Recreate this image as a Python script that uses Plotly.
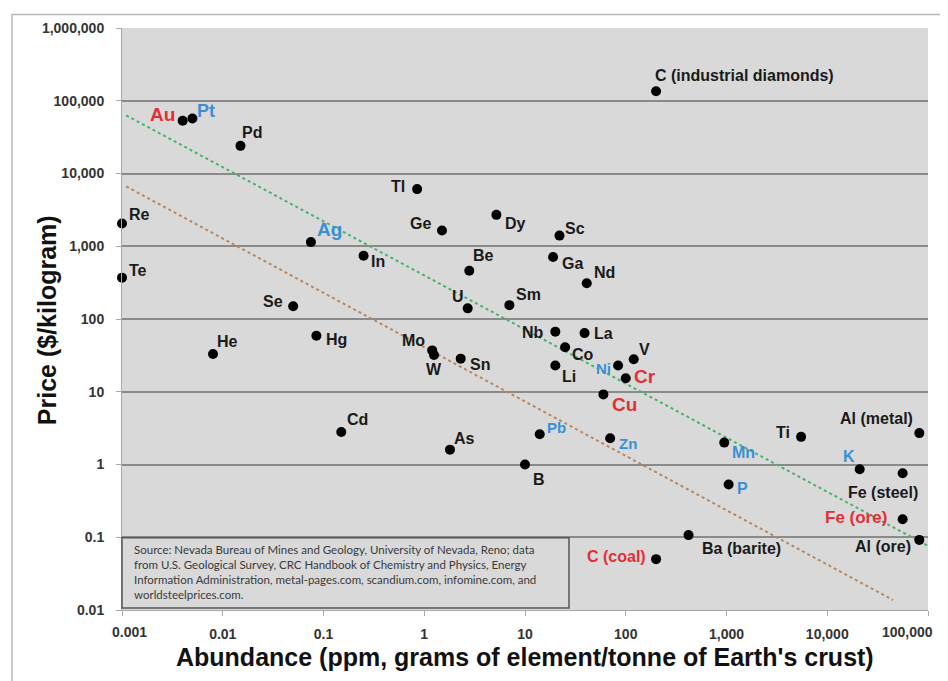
import numpy as np
import plotly.graph_objects as go

# ---------------- data ----------------
elements = ["Au", "Pt", "Pd", "C (industrial diamonds)", "Re", "Te", "Tl", "Ge", "Dy", "Sc",
            "Ag", "In", "Be", "Ga", "Nd", "U", "Sm", "Se", "He", "Hg",
            "Mo", "W", "Sn", "Nb", "La", "Co", "Li", "Ni", "V", "Cr",
            "Cu", "Pb", "As", "Cd", "B", "Zn", "Mn", "Ti", "Al (metal)", "K",
            "Fe (steel)", "P", "Fe (ore)", "Al (ore)", "Ba (barite)", "C (coal)"]

abundance_ppm = [0.004, 0.005, 0.015, 200, 0.001, 0.001, 0.85, 1.5, 5.2, 22,
                 0.075, 0.25, 2.8, 19, 41, 2.7, 7, 0.05, 0.008, 0.085,
                 1.2, 1.25, 2.3, 20, 39, 25, 20, 84, 120, 100,
                 60, 14, 1.8, 0.15, 10, 70, 950, 5500, 82000, 21000,
                 56000, 1050, 56000, 82000, 420, 200]

price_usd_per_kg = [53000, 57000, 24000, 135000, 2050, 370, 6100, 1650, 2700, 1400,
                    1140, 740, 460, 710, 310, 140, 155, 150, 33, 59,
                    37, 32, 28.5, 67, 64, 41, 23, 23, 28, 15.3,
                    9.2, 2.6, 1.6, 2.8, 1.0, 2.3, 2.0, 2.4, 2.7, 0.86,
                    0.76, 0.53, 0.177, 0.092, 0.107, 0.05]

red_elements = ["Au", "Cr", "Cu", "Fe (ore)", "C (coal)"]
blue_elements = ["Pt", "Ag", "Ni", "Pb", "Zn", "Mn", "K", "P"]

# trend lines (end points)
green_trend_x = [0.0011, 100000]
green_trend_y = [63000, 0.076]
brown_trend_x = [0.0011, 45000]
brown_trend_y = [6650, 0.0137]

x_tick_vals = [0.001, 0.01, 0.1, 1, 10, 100, 1000, 10000, 100000]
x_tick_text = ["0.001", "0.01", "0.1", "1", "10", "100", "1,000", "10,000", "100,000"]
y_tick_vals = [0.01, 0.1, 1, 10, 100, 1000, 10000, 100000, 1000000]
y_tick_text = ["0.01", "0.1", "1", "10", "100", "1,000", "10,000", "100,000", "1,000,000"]

source_text = ("Source: Nevada Bureau of Mines and Geology, University of Nevada, Reno; data<br>"
               "from U.S. Geological Survey, CRC Handbook of Chemistry and Physics, Energy<br>"
               "Information Administration, metal-pages.com, scandium.com, infomine.com, and<br>"
               "worldsteelprices.com.")

# ---------------- label placement (style) ----------------
label_pos = {
    "Au": ("center", -20, -6, 19), "Pt": ("center", 14, -8, 18), "Pd": ("center", 12, -13, 16),
    "C (industrial diamonds)": ("left", -3, -16, 16), "Re": ("center", 17, -9, 16),
    "Te": ("center", 16, -7, 16), "Tl": ("center", -19, -3, 16), "Ge": ("center", -21, -7, 16),
    "Dy": ("center", 19, 9, 16), "Sc": ("center", 15, -7, 16), "Ag": ("center", 19, -13, 19),
    "In": ("center", 14, 6, 16), "Be": ("center", 14, -15, 16), "Ga": ("center", 19, 6, 16),
    "Nd": ("center", 18, -11, 16), "U": ("center", -10, -12, 16), "Sm": ("center", 19, -11, 16),
    "Se": ("center", -20, -5, 16), "He": ("center", 15, -13, 16), "Hg": ("center", 20, 4, 16),
    "Mo": ("center", -19, -10, 16), "W": ("center", 0, 14, 16), "Sn": ("center", 19, 6, 16),
    "Nb": ("center", -22, 1, 16), "La": ("center", 19, 0, 16), "Co": ("center", 18, 7, 16),
    "Li": ("center", 14, 11, 16), "Ni": ("center", -15, 3, 15), "V": ("center", 11, -10, 16),
    "Cr": ("center", 19, -2, 19), "Cu": ("center", 21, 10, 19), "Pb": ("center", 17, -7, 15),
    "As": ("center", 15, -11, 16), "Cd": ("center", 16, -12, 16), "B": ("center", 14, 15, 16),
    "Zn": ("center", 18, 5, 15), "Mn": ("center", 19, 10, 16), "Ti": ("center", -18, -4, 16),
    "Al (metal)": ("right", -4, -15, 16), "K": ("center", -11, -13, 16),
    "Fe (steel)": ("right", 17, 19, 16), "P": ("center", 14, 4, 16),
    "Fe (ore)": ("right", -14, -2, 17), "Al (ore)": ("right", -6, 7, 16),
    "Ba (barite)": ("left", 11, 13, 16), "C (coal)": ("right", -8, -3, 16),
}

RED = "#e62e36"
BLUE = "#3a8fd3"
BLACK = "#1a1a1a"
FONT = "Liberation Sans, Arial, sans-serif"
TICKFONT = dict(family=FONT, size=14, color="#333", weight="bold")

fig = go.Figure()

fig.add_trace(go.Scatter(x=green_trend_x, y=green_trend_y, mode="lines",
                         line=dict(color="#45b26e", width=2, dash="dot"),
                         hoverinfo="skip", showlegend=False))
fig.add_trace(go.Scatter(x=brown_trend_x, y=brown_trend_y, mode="lines",
                         line=dict(color="#b9875c", width=2, dash="dot"),
                         hoverinfo="skip", showlegend=False))

fig.add_trace(go.Scatter(x=abundance_ppm, y=price_usd_per_kg, mode="markers",
                         marker=dict(color="black", size=10, line=dict(width=0)),
                         text=elements, cliponaxis=False, showlegend=False))

annotations = []
for name, xv, yv in zip(elements, abundance_ppm, price_usd_per_kg):
    anchor, dx, dy, size = label_pos[name]
    color = RED if name in red_elements else (BLUE if name in blue_elements else BLACK)
    annotations.append(dict(
        x=np.log10(xv), y=np.log10(yv), xref="x", yref="y",
        text=name, showarrow=False, xanchor=anchor, yanchor="middle",
        xshift=dx, yshift=-dy,
        font=dict(family=FONT, size=size, color=color, weight="bold")))

# the two outermost x tick labels sit slightly inside the plot edges (as in the original)
axis_tick_text = [""] + x_tick_text[1:-1] + [""]
annotations.append(dict(x=0.0087, y=0, xref="paper", yref="paper", yshift=-22,
                        text=x_tick_text[0], showarrow=False, xanchor="center",
                        yanchor="middle", font=TICKFONT))
annotations.append(dict(x=0.975, y=0, xref="paper", yref="paper", yshift=-22,
                        text=x_tick_text[-1], showarrow=False, xanchor="center",
                        yanchor="middle", font=TICKFONT))

# axis titles
annotations.append(dict(
    x=0.5, y=0, xref="paper", yref="paper", yshift=-47,
    text="Abundance (ppm, grams of element/tonne of Earth's crust)",
    showarrow=False, xanchor="center", yanchor="middle",
    font=dict(family=FONT, size=25, color="#111", weight="bold")))
annotations.append(dict(
    x=0, y=0.498, xref="paper", yref="paper", xshift=-75,
    text="Price ($/kilogram)", textangle=-90,
    showarrow=False, xanchor="center", yanchor="middle",
    font=dict(family=FONT, size=25, color="#111", weight="bold")))

# source note
annotations.append(dict(
    x=0, y=0.0646, xref="paper", yref="paper", xshift=10,
    text=source_text, showarrow=False, xanchor="left", yanchor="middle", align="left",
    font=dict(family="Lato, Open Sans, sans-serif", size=11.5, color="#3a3a3a")))

shapes = [
    # outer chart border
    dict(type="rect", xref="paper", yref="paper", x0=-0.1365, x1=1.0211, y0=-0.3, y1=1.023,
         line=dict(color="#b8b8b8", width=1.5), fillcolor="rgba(0,0,0,0)", layer="below"),
    # source box
    dict(type="rect", xref="paper", yref="paper", x0=0, x1=0.5546, y0=0.0034, y1=0.124,
         line=dict(color="#555555", width=1.5), fillcolor="#d9d9d9", layer="above"),
]

# page body has an 8px margin: plot area spans x 122..928, y 22..610 in the window
fig.update_layout(
    width=940, height=673, autosize=False,
    margin=dict(l=114, r=20, t=14, b=71, pad=0),
    paper_bgcolor="white", plot_bgcolor="#d9d9d9",
    showlegend=False,
    annotations=annotations, shapes=shapes,
    font=dict(family=FONT),
)

fig.update_xaxes(type="log", range=[-3, 5], tickvals=x_tick_vals, ticktext=axis_tick_text,
                 showgrid=False, zeroline=False, showline=True, linecolor="#a8a8a8", linewidth=1,
                 ticks="outside", ticklen=5, tickcolor="#a8a8a8", ticklabelstandoff=6,
                 tickfont=TICKFONT)
fig.update_yaxes(type="log", range=[-2, 6], tickvals=y_tick_vals, ticktext=y_tick_text,
                 showgrid=True, gridcolor="#8a8a8a", gridwidth=2, zeroline=False,
                 showline=True, linecolor="#a8a8a8", linewidth=1,
                 ticks="outside", ticklen=5, tickcolor="#a8a8a8", ticklabelstandoff=9,
                 tickfont=TICKFONT)

fig.write_html("out.html")
